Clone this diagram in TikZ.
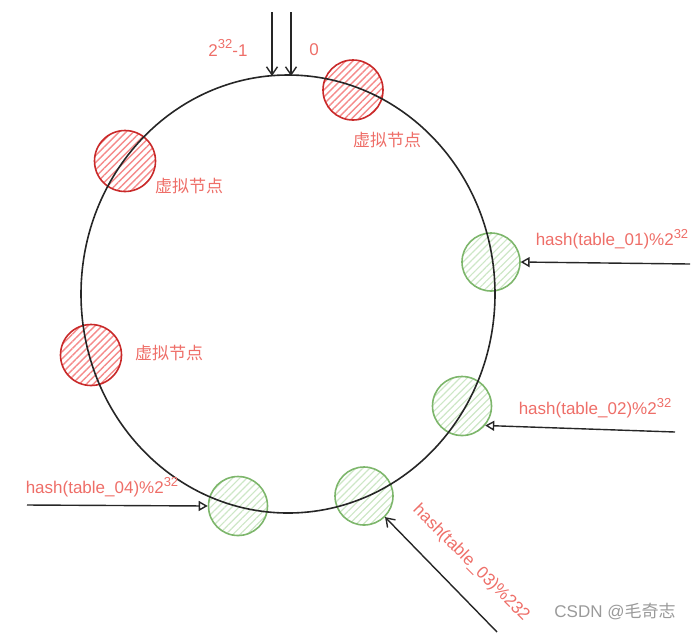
\documentclass[tikz,border=0pt]{standalone}
\usepackage{fontspec}
\setmainfont{Liberation Sans}
\newfontfamily\cjk{Noto Sans CJK SC}
\usetikzlibrary{shapes.geometric,arrows.meta,patterns.meta}
\definecolor{txtred}{HTML}{EE6E68}
\definecolor{strokered}{HTML}{C92A2A}
\definecolor{hatchred}{HTML}{F58A8A}
\definecolor{strokegreen}{HTML}{7DB66B}
\definecolor{hatchgreen}{HTML}{CDE7C6}
\definecolor{wm}{HTML}{9A9A9A}
\newcommand\supx[1]{\raisebox{0.42em}{\fontsize{13}{13}\selectfont #1}}
\tikzset{
  vnode/.style={circle, draw=strokered, line width=1.6pt, inner sep=0pt,
    pattern={Lines[angle=45,distance=5pt,line width=1.4pt]}, pattern color=hatchred},
  tnode/.style={circle, draw=strokegreen, line width=1.6pt, inner sep=0pt,
    pattern={Lines[angle=45,distance=5pt,line width=1.2pt]}, pattern color=hatchgreen},
  lbl/.style={text=txtred, font=\fontsize{17}{19}\selectfont, inner sep=0pt},
  clbl/.style={text=txtred, font=\cjk\fontsize{17}{19}\selectfont, inner sep=0pt},
  ring/.style={ellipse, draw=black!85, line width=1.6pt, inner sep=0pt},
  barb/.style={draw=black!85, line width=1.4pt, -{Straight Barb[length=8pt,width=11pt]}},
  tri/.style={draw=black!85, line width=1.4pt, -{Triangle[open,length=9pt,width=10pt]}},
}
\begin{document}
\begin{tikzpicture}[x=1pt,y=-1pt]
\useasboundingbox (0,0) rectangle (695,633);
% virtual nodes (red)
\node[vnode, minimum size=60pt] (v1) at (353,90) {};
\node[vnode, minimum size=61pt] (v2) at (125,161) {};
\node[vnode, minimum size=61pt] (v3) at (91,355) {};
% table nodes (green)
\node[tnode, minimum size=58pt] (g1) at (491,262) {};
\node[tnode, minimum size=59pt] (g2) at (462,406) {};
\node[tnode, minimum size=58pt] (g3) at (364,496) {};
\node[tnode, minimum size=59pt] (g4) at (238,506) {};
% hash ring
\node[ring, minimum width=414pt, minimum height=438pt] (ring) at (288,294) {};
% labels
\node[lbl] (l2321) at (228,48) {2\supx{32}-1};
\node[lbl] (lzero) at (314,50) {0};
\node[clbl] (c1) at (387,140) {虚拟节点};
\node[clbl] (c2) at (189,186) {虚拟节点};
\node[clbl] (c3) at (169,353) {虚拟节点};
\node[lbl] (h1) at (612,239) {hash(table\_01)\%2\supx{32}};
\node[lbl] (h2) at (595,408) {hash(table\_02)\%2\supx{32}};
\node[lbl] (h4) at (102,487) {hash(table\_04)\%2\supx{32}};
\node[lbl, rotate=-45] (h3) at (471,563) {hash(table\_03)\%232};
\node[text=wm, font=\fontsize{17}{19}\selectfont, inner sep=0pt] (wmk) at (615,612) {CSDN @{\cjk 毛奇志}};
% arrows
\coordinate (a1s) at (272,12); \coordinate (a1e) at (272,76);
\coordinate (a2s) at (291,12); \coordinate (a2e) at (291,76);
\coordinate (b1) at (690,264);
\coordinate (b2) at (675,432);
\coordinate (b4) at (27,505);
\coordinate (b3) at (497,632);
\draw[barb] (a1s) -- (a1e);
\draw[barb] (a2s) -- (a2e);
\draw[tri] (b1) -- (g1.east);
\draw[tri] (b2) -- (g2.-40);
\draw[tri] (b4) -- (g4.west);
\draw[barb] (b3) -- (g3.-45);
\end{tikzpicture}
\end{document}
